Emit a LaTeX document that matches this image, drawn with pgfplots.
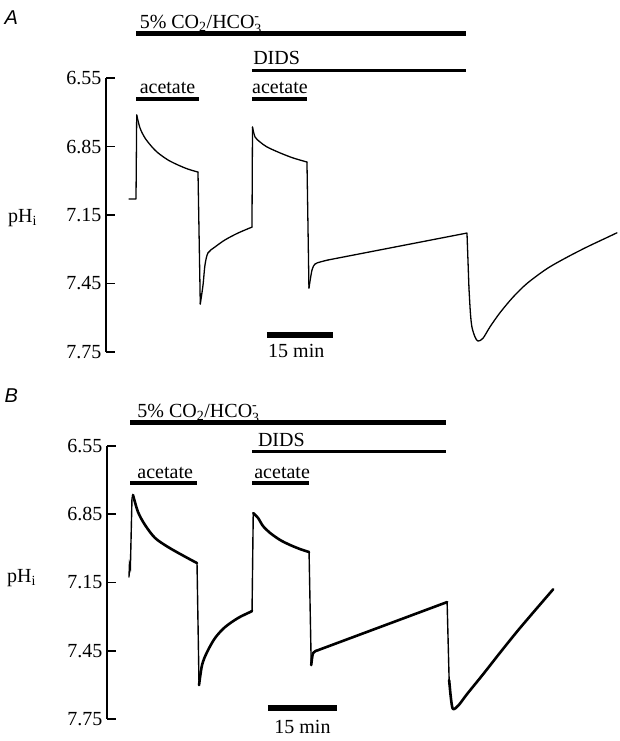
\documentclass[border=0pt]{standalone}
\usepackage{amsmath}
\usepackage{fontspec}
\setmainfont{Liberation Serif}
\setsansfont{Liberation Sans}
\usepackage{pgfplots}
\pgfplotsset{compat=1.18}

\newcommand\lab{\fontsize{20bp}{22bp}\selectfont}
\newcommand\cotwo{5\% CO\textsubscript{2}/HCO$^{\text{-}}_{\text{3}}$}

\pgfplotsset{
  trace/.style={
    scale only axis, clip=false, anchor=south west,
    axis x line=none, axis y line*=left,
    y dir=reverse, ymin=6.55, ymax=7.75,
    ytick={6.55,6.85,7.15,7.45,7.75},
    /pgf/number format/.cd, fixed, fixed zerofill, precision=2, assume math mode=true, /pgfplots/.cd,
    ytick align=inside, major tick length=9bp,
    axis line style={line width=1.6bp},
    y tick style={line width=1.6bp, black},
    yticklabel style={font=\lab, xshift=-1bp},
  },
  tA/.style={black, line width=1.3bp, line join=round, line cap=round},
  tB/.style={black, line width=2.6bp, line join=round, line cap=round},
  jB/.style={black, line width=1.4bp, line cap=round},
}

\begin{document}
\begin{tikzpicture}
\path[use as bounding box] (0,0) rectangle (620bp,-741bp);

\node[anchor=base west, font=\fontsize{20bp}{22bp}\selectfont\sffamily\itshape] at (1bp,-24bp) {A};
\node[anchor=base west, font=\fontsize{20bp}{22bp}\selectfont\sffamily\itshape] at (1bp,-402bp) {B};

% panel A
\begin{axis}[trace, at={(106bp,-352bp)}, width=514bp, height=274bp,
  xmin=-5.23, xmax=111.6]
\addplot[tA] coordinates {(0,7.080) (1.59,7.080) (1.75,6.712)};
\addplot[tA, smooth] coordinates {(1.75,6.712) (2.50,6.769) (3.64,6.813) (5.23,6.852)
  (6.59,6.878) (8.86,6.909) (11.14,6.931) (13.41,6.949) (15.68,6.962)};
\addplot[tA] coordinates {(15.68,6.962) (16.2,7.540)};
\addplot[tA, smooth] coordinates {(16.2,7.540) (16.82,7.457) (17.27,7.369) (17.95,7.316)
  (19.55,7.290) (21.82,7.259) (24.77,7.229) (27.95,7.203)};
\addplot[tA] coordinates {(27.95,7.203) (28.07,6.765)};
\addplot[tA, smooth] coordinates {(28.07,6.765) (28.64,6.808) (29.77,6.830) (31.36,6.852)
  (34.32,6.878) (37.27,6.900) (40.45,6.918)};
\addplot[tA] coordinates {(40.45,6.918) (40.9,7.470)};
\addplot[tA, smooth] coordinates {(40.9,7.470) (41.59,7.391) (42.27,7.365) (43.41,7.356) (45.23,7.347)};
\addplot[tA] coordinates {(45.23,7.347) (76.82,7.229) (77.27,7.470)};
\addplot[tA, smooth] coordinates {(77.27,7.470) (77.6,7.580) (77.95,7.641) (78.64,7.684)
  (79.32,7.702) (80.45,7.690) (82.05,7.640) (84.32,7.578) (87.27,7.510) (90.45,7.450)
  (95.0,7.385) (99.55,7.335) (104.1,7.290) (108.6,7.249) (110.9,7.228)};
\draw[line width=5bp] (axis cs:1.59,6.353) -- (axis cs:76.6,6.353);
\draw[line width=3bp] (axis cs:27.95,6.515) -- (axis cs:76.6,6.515);
\draw[line width=3.5bp] (axis cs:1.59,6.642) -- (axis cs:15.91,6.642);
\draw[line width=3.5bp] (axis cs:27.95,6.642) -- (axis cs:40.45,6.642);
\draw[line width=6.5bp] (axis cs:31.36,7.676) -- (axis cs:46.36,7.676);
\node[anchor=base west, font=\lab, inner sep=0pt] at (axis cs:2.4,6.331) {\cotwo};
\node[anchor=base west, font=\lab, inner sep=0pt] at (axis cs:28.2,6.493) {DIDS};
\node[anchor=base west, font=\lab, inner sep=0pt] at (axis cs:2.4,6.620) {acetate};
\node[anchor=base west, font=\lab, inner sep=0pt] at (axis cs:27.95,6.620) {acetate};
\node[anchor=base west, font=\lab, inner sep=0pt] at (axis cs:31.6,7.776) {15 min};
\node[anchor=base west, font=\lab, inner sep=0pt] at (axis cs:-27.5,7.181) {pH\textsubscript{i}};
\end{axis}

% panel B
\begin{axis}[trace, at={(107bp,-719bp)}, width=513bp, height=273bp,
  xmin=-4.78, xmax=106.7]
\addplot[jB] coordinates {(0,7.126) (0.1,7.070) (0.3,7.086) (0.65,6.779) (0.87,6.765)};
\addplot[tB, smooth] coordinates {(0.87,6.765) (1.96,6.840) (3.48,6.897) (5.65,6.954)
  (8.48,6.994) (11.52,7.029) (14.35,7.060) (14.78,7.064)};
\addplot[jB] coordinates {(14.78,7.064) (15.22,7.601)};
\addplot[tB, smooth] coordinates {(15.22,7.601) (15.87,7.513) (16.96,7.456) (18.70,7.394)
  (20.87,7.346) (23.70,7.306) (26.30,7.280) (26.74,7.275)};
\addplot[jB] coordinates {(26.74,7.275) (27.0,6.845)};
\addplot[tB, smooth] coordinates {(27.0,6.845) (28.04,6.866) (29.13,6.902) (30.65,6.932)
  (32.83,6.963) (35.0,6.985) (37.17,7.003) (39.13,7.016)};
\addplot[jB] coordinates {(39.13,7.016) (39.6,7.513)};
\addplot[tB, smooth] coordinates {(39.6,7.513) (40.0,7.460) (41.0,7.448)};
\addplot[tB] coordinates {(41.0,7.448) (69.13,7.236)};
\addplot[jB] coordinates {(69.13,7.236) (69.57,7.579)};
\addplot[tB, smooth] coordinates {(69.57,7.579) (70.0,7.666) (70.43,7.706) (71.6,7.690)
  (73.48,7.640) (76.96,7.553) (80.65,7.458) (84.35,7.365) (87.83,7.282) (92.17,7.180)};
\draw[line width=5bp] (axis cs:0.22,6.445) -- (axis cs:68.9,6.445);
\draw[line width=3bp] (axis cs:26.74,6.576) -- (axis cs:68.9,6.576);
\draw[line width=3.5bp] (axis cs:0.22,6.713) -- (axis cs:14.78,6.713);
\draw[line width=3.5bp] (axis cs:26.74,6.713) -- (axis cs:39.13,6.713);
\draw[line width=6.5bp] (axis cs:30.2,7.702) -- (axis cs:45.2,7.702);
\node[anchor=base west, font=\lab, inner sep=0pt] at (axis cs:1.8,6.423) {\cotwo};
\node[anchor=base west, font=\lab, inner sep=0pt] at (axis cs:28.0,6.554) {DIDS};
\node[anchor=base west, font=\lab, inner sep=0pt] at (axis cs:1.8,6.691) {acetate};
\node[anchor=base west, font=\lab, inner sep=0pt] at (axis cs:27.2,6.691) {acetate};
\node[anchor=base, font=\lab, inner sep=0pt] at (axis cs:37.7,7.812) {15 min};
\node[anchor=base west, font=\lab, inner sep=0pt] at (axis cs:-26.5,7.148) {pH\textsubscript{i}};
\end{axis}
\end{tikzpicture}
\end{document}
